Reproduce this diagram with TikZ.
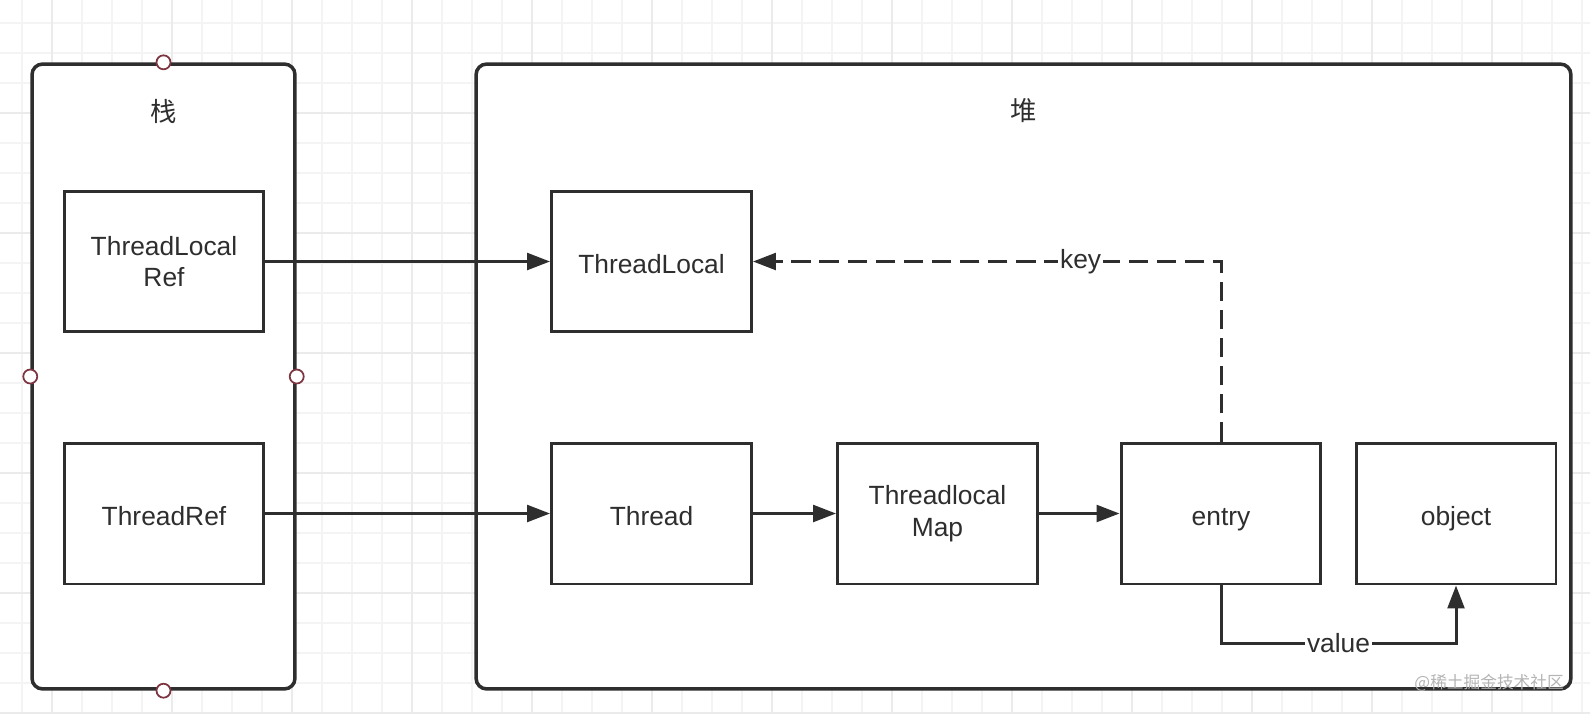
\documentclass[tikz,border=0pt]{standalone}
\usepackage{fontspec}
\setmainfont{Liberation Sans}
\newfontfamily\cjk{Noto Sans CJK SC}
\usepackage{xcolor}
\usetikzlibrary{positioning,calc,arrows.meta}

\definecolor{ink}{HTML}{2E2E2E}
\definecolor{gridlight}{HTML}{F4F4F4}
\definecolor{griddark}{HTML}{EBEBEB}
\definecolor{handlered}{HTML}{7E3542}
\definecolor{wmgrey}{HTML}{B4B4B4}

\tikzset{
  objbox/.style={draw=ink, line width=1.7pt, fill=white, minimum width=4cm, minimum height=2.82cm,
    align=center, text=ink, font=\fontsize{15}{18}\selectfont},
  oneline/.style={text height=14pt, text depth=0pt},
  area/.style={draw=ink, line width=2pt, fill=white, rounded corners=6pt, minimum height=12.5cm},
  ref/.style={draw=ink, line width=1.7pt, -{Triangle[length=13pt,width=9.5pt]}},
  handle/.style={circle, draw=handlered, fill=white, line width=1pt, inner sep=0pt, minimum size=0.28cm},
  tag/.style={fill=white, inner sep=1pt, text=ink, font=\fontsize{15}{17}\selectfont},
}

\begin{document}
\begin{tikzpicture}[x=0.02cm, y=-0.02cm]
    \useasboundingbox (0,0) rectangle (1590,714);
    \fill[white] (0,0) rectangle (1590,714);

    % background grid
    \foreach \gx in {22,52,...,1590} \draw[gridlight, line width=0.8pt] (\gx,0) -- (\gx,714);
    \foreach \gy in {23,53,...,714} \draw[gridlight, line width=0.8pt] (0,\gy) -- (1590,\gy);
    \foreach \gx in {52,172,...,1590} \draw[griddark, line width=0.8pt] (\gx,0) -- (\gx,714);
    \foreach \gy in {113,233,...,714} \draw[griddark, line width=0.8pt] (0,\gy) -- (1590,\gy);

    % stack and heap
    \node[area, minimum width=5.26cm] (stack) at (163.5,376.5) {};
    \node[area, minimum width=21.9cm] (heap) at (1023.5,376.5) {};
    \node[text=ink, font=\cjk\fontsize{15}{17}\selectfont] (stacklbl) at (164,111) {栈};
    \node[text=ink, font=\cjk\fontsize{15}{17}\selectfont] (heaplbl) at (1024,111) {堆};

    % selection handles on the stack
    \node[handle] (hn) at (stack.north) {};
    \node[handle] (hs) at (stack.south) {};
    \node[handle] (hw) at (stack.west) {};
    \node[handle] (he) at (stack.east) {};

    % stack refs
    \node[objbox] (tlref) at (164,261.5) {ThreadLocal\\Ref};
    \node[objbox, oneline] (tref) at (164,513.5) {ThreadRef};

    % heap objects
    \node[objbox, oneline] (tl) at (651.5,261.5) {ThreadLocal};
    \node[objbox, oneline] (thread) at (651.5,513.5) {Thread};
    \node[objbox] (map) at (937.5,513.5) {Threadlocal\\Map};
    \node[objbox, oneline] (entry) at (1221,513.5) {entry};
    \node[objbox, oneline] (object) at (1456,513.5) {object};

    % references
    \draw[ref] (tlref) -- (tl);
    \draw[ref] (tref) -- (thread);
    \draw[ref] (thread) -- (map);
    \draw[ref] (map) -- (entry);
    \draw[ref, dash pattern=on 11pt off 5pt] (entry.north) |- node[tag, pos=0.65] (keylbl) {key} (tl.east);
    \coordinate (vbend) at (1221,643);
    \draw[ref] (entry.south) -- (vbend) -| node[tag, pos=0.25] (valuelbl) {value} (object.south);

    \node[anchor=east, text=wmgrey, font=\cjk\fontsize{9.5}{10}\selectfont] (wm) at (1570,683) {@稀土掘金技术社区};
\end{tikzpicture}
\end{document}
